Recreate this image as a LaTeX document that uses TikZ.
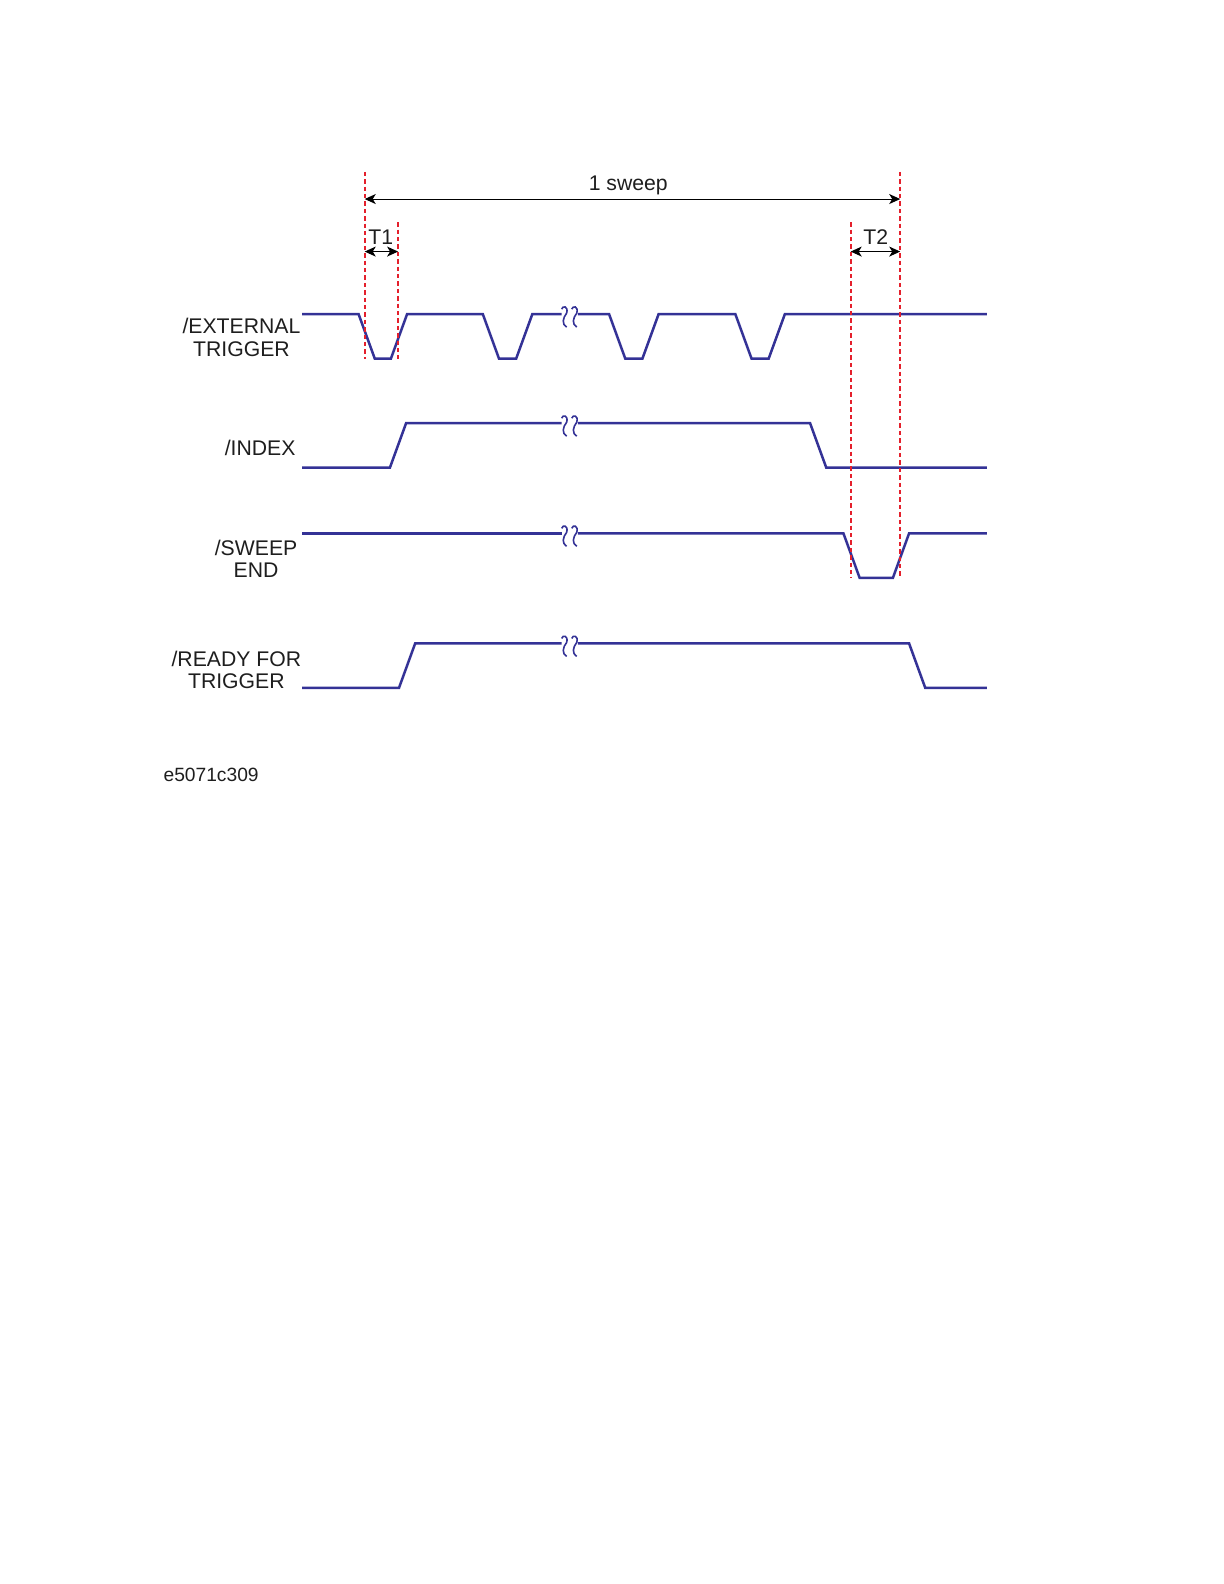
\documentclass[tikz,border=0pt]{standalone}
\usepackage{fontspec}
\setmainfont{Liberation Sans}
\usetikzlibrary{arrows.meta}
\definecolor{wavecol}{RGB}{52,50,150}
\definecolor{redcol}{RGB}{228,32,44}
\definecolor{txtcol}{RGB}{30,30,30}
\tikzset{
  wave/.style={draw=wavecol, line width=1.25pt, line join=miter},
  reddash/.style={draw=redcol, line width=1.1pt, dash pattern=on 2.2pt off 1.5pt},
  dimarrow/.style={draw=black, line width=0.5pt, {Stealth[length=5.5pt,width=5pt,inset=1.5pt]}-{Stealth[length=5.5pt,width=5pt,inset=1.5pt]}},
  lbl/.style={font=\fontsize{10.6}{11.1}\selectfont, text=txtcol, align=center, inner sep=0pt, anchor=center},
  brk/.pic={
    \draw[draw=wavecol, line width=0.8pt] (-3,-5) .. controls (-2,-9) and (4,-8) .. (2,-1) .. controls (-2,4) and (-3,10) .. (2,13);
  }
}
\begin{document}
\begin{tikzpicture}[x=0.5pt,y=-0.5pt]
\useasboundingbox (0,0) rectangle (1224,1584);
\begin{scope}[scale=1.0101]
% labels
\node[lbl] (ext) at (239,334) {/EXTERNAL\\TRIGGER};
\node[lbl] (idx) at (257.5,443) {/INDEX};
\node[lbl] (swe) at (253.5,553) {/SWEEP\\END};
\node[lbl] (rdy) at (234,663) {/READY FOR\\TRIGGER};
\node[lbl, font=\fontsize{9.6}{11}\selectfont] (fig) at (209,767) {e5071c309};

% waveforms
\draw[wave] (299,311) -- (355,311) -- (371,355) -- (387,355) -- (403,311) -- (478,311) -- (494,355) -- (511,355) -- (527,311) -- (556,311);
\draw[wave] (572,311) -- (603,311) -- (619,355) -- (636,355) -- (652,311) -- (728,311) -- (744,355) -- (761,355) -- (777,311) -- (977,311);

\draw[wave] (299,463) -- (386,463) -- (402,419) -- (556,419);
\draw[wave] (572,419) -- (802,419) -- (818,463) -- (977,463);

\draw[wave] (299,528) -- (556,528);
\draw[wave] (572,528) -- (835,528) -- (851,572) -- (884,572) -- (900,528) -- (977,528);

\draw[wave] (299,681) -- (395,681) -- (411,637) -- (556,637);
\draw[wave] (572,637) -- (900,637) -- (916,681) -- (977,681);

% break marks
\foreach \yy in {311,419,528,637} {
  \pic at (559,\yy) {brk};
  \pic at (569,\yy) {brk};
}

% red dashed guide lines
\coordinate (r1t) at (361,170); \coordinate (r1b) at (361,355);
\coordinate (r2t) at (394,220); \coordinate (r2b) at (394,355);
\coordinate (r3t) at (842,220); \coordinate (r3b) at (842,572);
\coordinate (r4t) at (891,170); \coordinate (r4b) at (891,572);
\draw[reddash] (r1t) -- (r1b);
\draw[reddash] (r2t) -- (r2b);
\draw[reddash] (r3t) -- (r3b);
\draw[reddash] (r4t) -- (r4b);

% dimension arrows
\coordinate (sL) at (361,197); \coordinate (sR) at (891,197);
\draw[dimarrow] (sL) -- (sR);
\node[lbl] (sw) at (622,184) {1 sweep};

\coordinate (t1L) at (361,249); \coordinate (t1R) at (394,249);
\draw[dimarrow] (t1L) -- (t1R);
\node[lbl] (t1) at (377,235) {T1};

\coordinate (t2L) at (842,249); \coordinate (t2R) at (891,249);
\draw[dimarrow] (t2L) -- (t2R);
\node[lbl] (t2) at (867,235) {T2};
\end{scope}
\end{tikzpicture}
\end{document}
